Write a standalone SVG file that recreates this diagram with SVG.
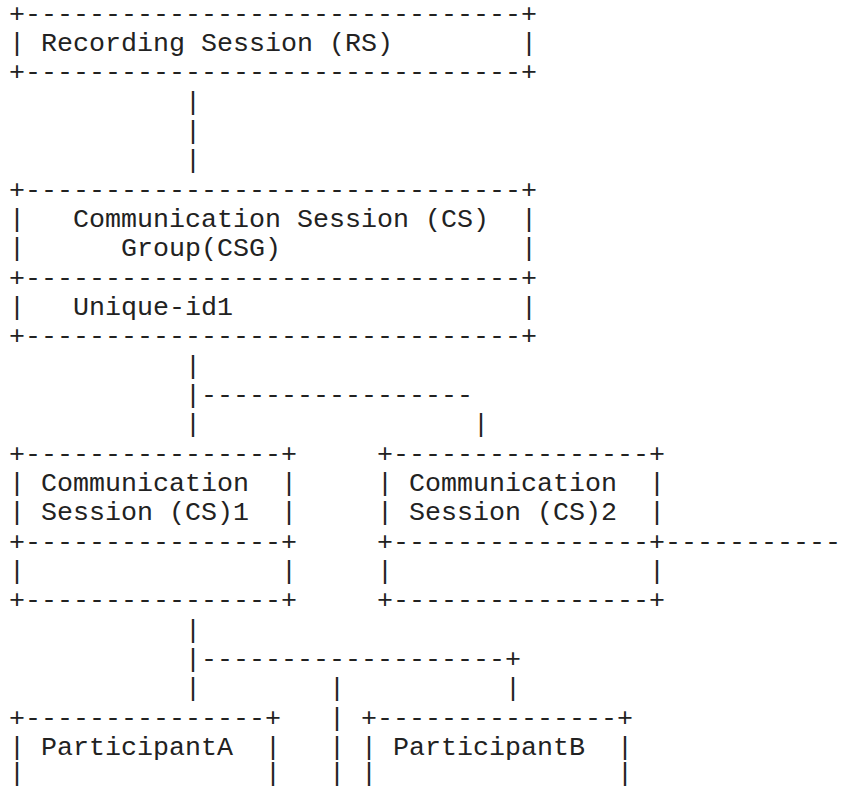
<svg xmlns="http://www.w3.org/2000/svg" width="842" height="787" viewBox="0 0 842 787">
  <style>
    /* monospace grid: 16px per column, 29.33px per row */
    text { font-family: "Liberation Mono", "Courier New", monospace; font-size: 26.67px; fill: #222; white-space: pre; }
  </style>
  <rect width="842" height="787" fill="#ffffff"/>

  <!-- Recording Session box -->
  <g id="rs">
    <text x="9" y="21.7">+-------------------------------+</text>
    <text x="9" y="51.0">|</text>
    <text x="41" y="51.0">Recording Session (RS)</text>
    <text x="521" y="51.0">|</text>
    <text x="9" y="80.4">+-------------------------------+</text>
  </g>

  <!-- Communication Session Group box -->
  <g id="csg">
    <text x="9" y="197.7">+-------------------------------+</text>
    <text x="9" y="227.0">|</text>
    <text x="73" y="227.0">Communication Session (CS)</text>
    <text x="521" y="227.0">|</text>
    <text x="9" y="256.3">|</text>
    <text x="121" y="256.3">Group(CSG)</text>
    <text x="521" y="256.3">|</text>
    <text x="9" y="285.7">+-------------------------------+</text>
    <text x="9" y="315.0">|</text>
    <text x="73" y="315.0">Unique-id1</text>
    <text x="521" y="315.0">|</text>
    <text x="9" y="344.3">+-------------------------------+</text>
  </g>

  <!-- Communication Session 1 box -->
  <g id="cs1">
    <text x="9" y="461.7">+----------------+</text>
    <text x="9" y="491.0">|</text>
    <text x="41" y="491.0">Communication</text>
    <text x="281" y="491.0">|</text>
    <text x="9" y="520.3">|</text>
    <text x="41" y="520.3">Session (CS)1</text>
    <text x="281" y="520.3">|</text>
    <text x="9" y="549.6">+----------------+</text>
    <text x="9" y="579.0">|</text>
    <text x="281" y="579.0">|</text>
    <text x="9" y="608.3">+----------------+</text>
  </g>

  <!-- Communication Session 2 box -->
  <g id="cs2">
    <text x="377" y="461.7">+----------------+</text>
    <text x="377" y="491.0">|</text>
    <text x="409" y="491.0">Communication</text>
    <text x="649" y="491.0">|</text>
    <text x="377" y="520.3">|</text>
    <text x="409" y="520.3">Session (CS)2</text>
    <text x="649" y="520.3">|</text>
    <text x="377" y="549.6">+----------------+</text>
    <text x="377" y="579.0">|</text>
    <text x="649" y="579.0">|</text>
    <text x="377" y="608.3">+----------------+</text>
  </g>

  <!-- Participant A box (open at the bottom) -->
  <g id="participant-a">
    <text x="9" y="725.6">+---------------+</text>
    <text x="9" y="755.0">|</text>
    <text x="41" y="755.0">ParticipantA</text>
    <text x="265" y="755.0">|</text>
    <text x="9" y="781.0">|</text>
    <text x="265" y="781.0">|</text>
  </g>

  <!-- Participant B box (open at the bottom) -->
  <g id="participant-b">
    <text x="361" y="725.6">+---------------+</text>
    <text x="361" y="755.0">|</text>
    <text x="393" y="755.0">ParticipantB</text>
    <text x="617" y="755.0">|</text>
    <text x="361" y="781.0">|</text>
    <text x="617" y="781.0">|</text>
  </g>

  <!-- connectors -->
  <g id="connectors">
    <!-- RS to CSG -->
    <text x="185" y="109.7">|</text>
    <text x="185" y="139.0">|</text>
    <text x="185" y="168.4">|</text>
    <!-- CSG to CS1 / CS2 -->
    <text x="185" y="373.7">|</text>
    <text x="185" y="403.0">|-----------------</text>
    <text x="185" y="432.3">|</text>
    <text x="473" y="432.3">|</text>
    <!-- CS2 outgoing -->
    <text x="665" y="549.6">-----------</text>
    <!-- CS1 to participants -->
    <text x="185" y="637.6">|</text>
    <text x="185" y="667.0">|-------------------+</text>
    <text x="185" y="696.3">|</text>
    <text x="505" y="696.3">|</text>
    <text x="329" y="696.3">|</text>
    <text x="329" y="725.6">|</text>
    <text x="329" y="755.0">|</text>
    <text x="329" y="781.0">|</text>
  </g>
</svg>
